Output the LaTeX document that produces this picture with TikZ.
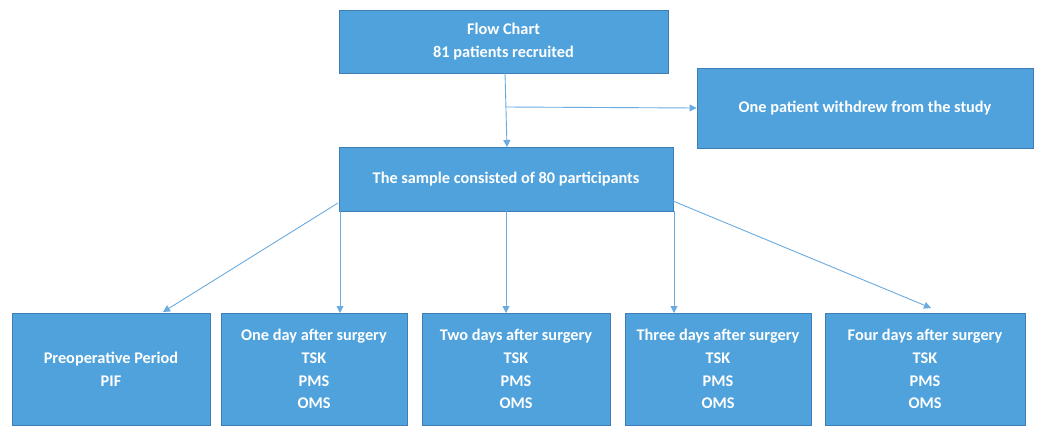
\documentclass[tikz,border=0pt]{standalone}
\usepackage{fontspec}
\setmainfont{Carlito}
\usetikzlibrary{arrows.meta}
\definecolor{boxfill}{HTML}{4FA2DC}
\definecolor{boxedge}{HTML}{3F7DB6}
\definecolor{linkcol}{HTML}{6AABE0}
\tikzset{
  box/.style={draw=boxedge, line width=0.9pt, fill=boxfill, text=white,
    font=\fontsize{16.3}{22.8}\selectfont\bfseries, align=center, inner sep=0pt},
  link/.style={draw=linkcol, line width=0.9pt, -{Triangle[width=7pt,length=7pt]}},
  plain/.style={draw=linkcol, line width=0.9pt}
}
\begin{document}
\begin{tikzpicture}[x=1pt,y=-1pt]
\useasboundingbox (0,0) rectangle (1039,426);
\node[box, minimum width=329pt, minimum height=63pt] (top) at (503.5,41.5) {Flow Chart\\81 patients recruited};
\node[box, minimum width=336pt, minimum height=80pt] (withdraw) at (865,108) {One patient withdrew from the study};
\node[box, minimum width=334pt, minimum height=64pt] (sample) at (506,179) {The sample consisted of 80 participants};
\node[box, minimum width=198pt, minimum height=112pt] (preop) at (111,369) {Preoperative Period\\PIF};
\node[box, minimum width=186pt, minimum height=112pt] (d1) at (314,369) {One day after surgery\\TSK\\PMS\\OMS};
\node[box, minimum width=188pt, minimum height=112pt] (d2) at (516,369) {Two days after surgery\\TSK\\PMS\\OMS};
\node[box, minimum width=186pt, minimum height=112pt] (d3) at (718,369) {Three days after surgery\\TSK\\PMS\\OMS};
\node[box, minimum width=200pt, minimum height=112pt] (d4) at (925,369) {Four days after surgery\\TSK\\PMS\\OMS};
% connectors
\coordinate (topout) at (505,73);
\coordinate (samplein) at (507,147);
\coordinate (br) at (506,107);
\draw[link] (topout) -- (samplein);
\draw[link] (br) -- (withdraw.west);
\coordinate (s0) at (338,203);
\coordinate (t0) at (163,312);
\coordinate (s1) at (340,211);
\coordinate (t1) at (340,313);
\coordinate (s2) at (506,211);
\coordinate (t2) at (506,313);
\coordinate (s3) at (674,211);
\coordinate (t3) at (674,313);
\coordinate (s4) at (673,201);
\coordinate (t4) at (931,308);
\draw[link] (s0) -- (t0);
\draw[link] (s1) -- (t1);
\draw[link] (s2) -- (t2);
\draw[link] (s3) -- (t3);
\draw[link] (s4) -- (t4);
\end{tikzpicture}
\end{document}
